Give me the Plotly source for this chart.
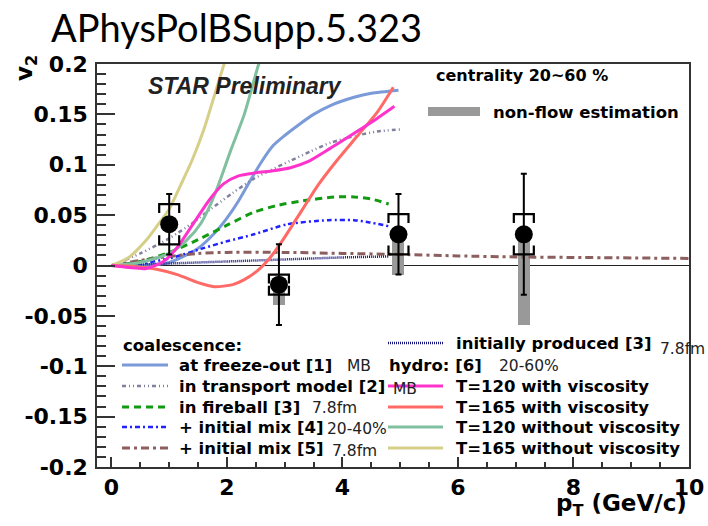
import plotly.graph_objects as go

# ---- measured J/psi v2 points ----
pt_x = [1.0, 2.9, 4.97, 7.14]
v2 = [0.041, -0.019, 0.031, 0.031]
stat_err = [0.03, 0.04, 0.04, 0.06]
sys_err = [0.02, 0.01, 0.02, 0.02]
nonflow = [0.0, 0.02, 0.04, 0.09]

# ---- model curves ----
freeze_x = [0, 0.5, 1.0, 1.5, 1.8, 2.0, 2.2, 2.4, 2.6, 2.8, 3.0, 3.25, 3.5, 3.8, 4.2, 4.5, 4.97]
freeze_y = [0, 0.0, 0.003, 0.017, 0.033, 0.047, 0.064, 0.084, 0.103, 0.119, 0.129, 0.140, 0.150, 0.159, 0.167, 0.171, 0.174]

transport_x = [0, 0.5, 1.0, 1.4, 1.72, 2.1, 2.46, 2.75, 3.1, 3.44, 3.8, 4.25, 4.6, 5.0]
transport_y = [0, 0.012, 0.027, 0.042, 0.056, 0.072, 0.086, 0.0945, 0.104, 0.113, 0.122, 0.129, 0.133, 0.135]

fireball_x = [0, 0.5, 1.0, 1.55, 2.0, 2.47, 2.9, 3.29, 3.86, 4.2, 4.5, 4.8]
fireball_y = [0, 0.004, 0.013, 0.027, 0.040, 0.053, 0.060, 0.064, 0.068, 0.068, 0.066, 0.061]

mix4_x = [0, 0.5, 1.0, 1.55, 2.0, 2.47, 3.05, 3.75, 4.2, 4.45, 4.8]
mix4_y = [0, 0.002, 0.007, 0.0165, 0.024, 0.031, 0.041, 0.045, 0.045, 0.043, 0.039]

mix5_x = [0, 0.5, 1.0, 1.5, 2.0, 3.0, 4.0, 5.0, 6.0, 7.0, 8.0, 10.0]
mix5_y = [0, 0.005, 0.009, 0.012, 0.013, 0.013, 0.012, 0.011, 0.0095, 0.0085, 0.008, 0.007]

initial_x = [0, 0.5, 1.0, 2.0, 3.0, 4.0, 4.8]
initial_y = [0, 0.001, 0.002, 0.004, 0.006, 0.008, 0.009]

t120v_x = [0, 0.3, 0.6, 0.9, 1.14, 1.4, 1.72, 1.94, 2.2, 2.5, 2.8, 3.1, 3.4, 3.78, 4.25, 4.6, 4.9]
t120v_y = [0, -0.002, -0.003, 0.004, 0.018, 0.04, 0.067, 0.081, 0.089, 0.092, 0.094, 0.097, 0.103, 0.116, 0.133, 0.146, 0.158]

t165v_x = [0, 0.4, 0.8, 1.14, 1.5, 1.78, 2.1, 2.3, 2.53, 2.75, 2.94, 3.2, 3.4, 3.58, 3.9, 4.25, 4.6, 4.88]
t165v_y = [0, -0.001, -0.004, -0.009, -0.017, -0.021, -0.019, -0.014, -0.005, 0.008, 0.023, 0.046, 0.064, 0.08, 0.104, 0.128, 0.152, 0.177]

t120_x = [0, 0.5, 1.0, 1.3, 1.55, 1.8, 2.07, 2.3, 2.55, 2.7]
t120_y = [0, 0.003, 0.012, 0.025, 0.042, 0.072, 0.115, 0.15, 0.2, 0.225]

t165_x = [0, 0.3, 0.6, 0.8, 1.0, 1.2, 1.4, 1.6, 1.8, 1.95, 2.1]
t165_y = [0, 0.008, 0.025, 0.04, 0.056, 0.08, 0.105, 0.135, 0.172, 0.2, 0.23]

# ---- axis ticks ----
x_ticks = [0, 2, 4, 6, 8, 10]
y_ticks = [-0.2, -0.15, -0.1, -0.05, 0, 0.05, 0.1, 0.15, 0.2]
y_tick_text = ["-0.2", "-0.15", "-0.1", "-0.05", "0", "0.05", "0.1", "0.15", "0.2"]

W, H = 708, 526
ML, MR, MT, MB_ = 97, 19, 64, 59
X_RANGE = [-0.25, 10.0]
Y_RANGE = [-0.2, 0.2]
PLOT_W = W - ML - MR
PLOT_H = H - MT - MB_
UX = PLOT_W / (X_RANGE[1] - X_RANGE[0])   # px per unit pT
UY = PLOT_H / (Y_RANGE[1] - Y_RANGE[0])   # px per unit v2


def px(X):
    return (X - ML) / PLOT_W


def py(Y):
    return (H - MB_ - Y) / PLOT_H


BOLD = dict(family="DejaVu Sans", size=16.5, color="black", weight="bold")
THIN = dict(family="DejaVu Sans", size=15.5, color="#222222")

curves = [
    (freeze_x, freeze_y, "#7b9bd8", 3, "solid"),
    (transport_x, transport_y, "#80809f", 2.5, "4px,3px,1px,3px,1px,3px"),
    (fireball_x, fireball_y, "#139a13", 3, "7px,5px"),
    (mix4_x, mix4_y, "#2222ff", 2.5, "5px,3px,2px,3px"),
    (mix5_x, mix5_y, "#8c5e5e", 3, "8px,4px,3px,4px"),
    (initial_x, initial_y, "#14147e", 2.5, "1px,1px"),
    (t120_x, t120_y, "#80c0a0", 3, "solid"),
    (t165_x, t165_y, "#d6cf88", 3, "solid"),
    (t165v_x, t165v_y, "#ff6a66", 3, "solid"),
    (t120v_x, t120v_y, "#ff33cc", 3, "solid"),
]

fig = go.Figure()

for cx, cy, col, wd, ds in curves:
    fig.add_trace(go.Scatter(
        x=cx, y=cy, mode="lines",
        line=dict(color=col, width=wd, dash=ds, shape="spline", smoothing=0.7),
        hoverinfo="skip", showlegend=False))

# non-flow estimation bands (hang below each point)
fig.add_trace(go.Bar(
    x=pt_x, y=nonflow, base=[v - n for v, n in zip(v2, nonflow)],
    width=12 / UX, marker=dict(color="#999999", line=dict(width=0)),
    showlegend=False, hoverinfo="skip"))

# systematic brackets
half_w = 10 / UX
leg = 9 / UY
bx, by = [], []
for x0, v, s in zip(pt_x, v2, sys_err):
    top, bot = v + s, v - s
    bx += [x0 - half_w, x0 - half_w, x0 + half_w, x0 + half_w, None]
    by += [top - leg, top, top, top - leg, None]
    bx += [x0 - half_w, x0 - half_w, x0 + half_w, x0 + half_w, None]
    by += [bot + leg, bot, bot, bot + leg, None]
fig.add_trace(go.Scatter(x=bx, y=by, mode="lines",
                         line=dict(color="black", width=2.2),
                         showlegend=False, hoverinfo="skip"))

# data points with statistical errors
fig.add_trace(go.Scatter(
    x=pt_x, y=v2, mode="markers",
    marker=dict(size=18, color="black"),
    error_y=dict(type="data", array=stat_err, color="black", thickness=2, width=3),
    showlegend=False))

shapes = []
ann = []


def label(text, X, Y, font, anchor="left"):
    ann.append(dict(text=text, x=px(X), y=py(Y), xref="paper", yref="paper",
                    xanchor=anchor, yanchor="middle", showarrow=False, font=font))


def sample(X0, X1, Y, col, wd, ds):
    shapes.append(dict(type="line", xref="paper", yref="paper",
                       x0=px(X0), x1=px(X1), y0=py(Y), y1=py(Y),
                       line=dict(color=col, width=wd, dash=ds)))


# left legend column
label("<b>coalescence:</b>", 121, 345, BOLD)
left_rows = [
    ("at freeze-out [1]", curves[0], 365),
    ("in transport model [2]", curves[1], 386),
    ("in fireball [3]", curves[2], 407),
    ("+ initial mix [4]", curves[3], 427),
    ("+ initial mix [5]", curves[4], 448),
]
for txt, c, Y in left_rows:
    sample(122, 168, Y, c[2], c[3], c[4])
    label("<b>%s</b>" % txt, 177, Y, BOLD)
label("MB", 345, 366, THIN)
label("7.8fm", 310, 408, THIN)
label("20-40%", 325, 429, THIN)
label("7.8fm", 330, 451, THIN)

# right legend column
sample(388, 443, 343, curves[5][2], curves[5][3], curves[5][4])
label("<b>initially produced [3]</b>", 454, 343, BOLD)
label("7.8fm", 658, 349, THIN)
label("<b>hydro: [6]</b>", 387, 365, BOLD)
label("20-60%", 497, 366, THIN)
right_rows = [
    ("T=120 with viscosity", curves[9], 386),
    ("T=165 with viscosity", curves[8], 407),
    ("T=120 without viscosity", curves[6], 427),
    ("T=165 without viscosity", curves[7], 448),
]
for txt, c, Y in right_rows:
    sample(388, 443, Y, c[2], c[3], c[4])
    label("<b>%s</b>" % txt, 454, Y, BOLD)
label("MB", 391, 389, THIN)

# centrality / non-flow key
label("<b>centrality 20~60 %</b>", 434, 76, dict(BOLD, size=16))
shapes.append(dict(type="rect", xref="paper", yref="paper",
                   x0=px(428), x1=px(480), y0=py(116), y1=py(107),
                   fillcolor="#999999", line=dict(width=0)))
label("<b>non-flow estimation</b>", 491, 112, BOLD)

label("<b><i>STAR Preliminary</i></b>", 146, 86,
      dict(family="Liberation Sans", size=23, color="#222222", weight="bold", style="italic"))

# axis titles
label("<b>p<sub>T</sub> (GeV/c)</b>", 689, 505,
      dict(family="DejaVu Sans", size=23, color="black", weight="bold"), anchor="right")
ann.append(dict(text="<b>v<sub>2</sub></b>", x=px(26), y=py(68), xref="paper", yref="paper",
                xanchor="center", yanchor="middle", showarrow=False, textangle=-90,
                font=dict(family="DejaVu Sans", size=23, color="black", weight="bold")))

# page title
label("APhysPolBSupp.5.323", 49, 27, dict(family="Lato", size=38, color="black"))

TICKFONT = dict(family="DejaVu Sans", size=22, color="black", weight="bold")

fig.update_layout(
    width=W, height=H,
    margin=dict(l=ML, r=MR, t=MT, b=MB_, pad=0),
    paper_bgcolor="white", plot_bgcolor="white",
    showlegend=False, bargap=0,
    shapes=shapes, annotations=ann,
)
fig.update_xaxes(
    range=X_RANGE, tickvals=x_ticks, ticktext=["<b>%d</b>" % t for t in x_ticks],
    ticks="inside", ticklen=10, tickwidth=1.5, tickcolor="#333333",
    minor=dict(dtick=0.5, tick0=0, ticks="inside", ticklen=5, tickwidth=1.5, tickcolor="#333333"),
    showgrid=False, zeroline=False,
    showline=True, mirror=True, linecolor="#333333", linewidth=1.5,
    tickfont=TICKFONT,
    automargin=False,
)
fig.update_yaxes(
    range=Y_RANGE, tickvals=y_ticks, ticktext=["<b>%s</b>" % t for t in y_tick_text],
    ticks="inside", ticklen=18, tickwidth=1.5, tickcolor="#333333",
    minor=dict(dtick=0.01, tick0=0, ticks="inside", ticklen=9, tickwidth=1.5, tickcolor="#333333"),
    showgrid=False, zeroline=True, zerolinecolor="#222222", zerolinewidth=1.2,
    showline=True, mirror=True, linecolor="#333333", linewidth=1.5,
    tickfont=TICKFONT,
    ticklabelstandoff=3,
    automargin=False,
)

fig.write_html("out.html")
